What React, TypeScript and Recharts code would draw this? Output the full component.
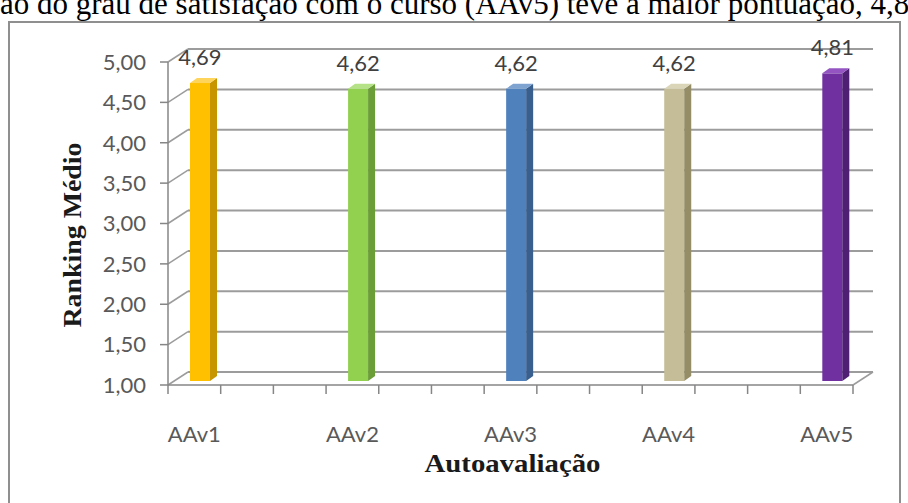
import { BarChart, Bar, XAxis, YAxis, CartesianGrid, LabelList } from 'recharts';

// Ranking médio por item de autoavaliação
const categories = ['AAv1', 'AAv2', 'AAv3', 'AAv4', 'AAv5'];
const rankingMedio = [4.69, 4.62, 4.62, 4.62, 4.81];
const yTicks = [1, 1.5, 2, 2.5, 3, 3.5, 4, 4.5, 5];

// the worksheet keeps two blank columns between items
const BLANK_SLOTS = 2;

// front / side / top shades for each column
const palette = [
  ['#FFC000', '#C79500', '#FFD45A'],
  ['#92D050', '#6C9E38', '#B5E187'],
  ['#4F81BD', '#385F8E', '#7FA3D1'],
  ['#C4BD97', '#958D66', '#DAD5B8'],
  ['#7030A0', '#4F1F74', '#9455C2'],
];

const W = 908;
const H = 503;
const PLOT_LEFT = 168;
const PLOT_RIGHT = 853;
const PLOT_TOP = 62;
const PLOT_BOTTOM = 385;
const DEPTH_X = 20;
const DEPTH_Y = 13;
const BAR_SHIFT_X = 6;
const BAR_SHIFT_Y = 4;
const BAR_DEPTH_X = 7;
const BAR_DEPTH_Y = 5;
const GRID = '#9c9c9c';
const AXIS = '#868686';
const LABEL_FONT = 'Lato, "Open Sans", sans-serif';
const TITLE_FONT = '"Liberation Serif", "Times New Roman", serif';

type Row = { slot: string; label: string; value: number | null; color: number };

const rows: Row[] = categories.flatMap((name, i) => {
  const row: Row = { slot: name, label: name, value: rankingMedio[i], color: i };
  if (i === categories.length - 1) return [row];
  const blanks: Row[] = Array.from({ length: BLANK_SLOTS }, (_, k) => ({
    slot: `${name}-${k}`,
    label: '',
    value: null,
    color: -1,
  }));
  return [row, ...blanks];
});

const SLOT = (PLOT_RIGHT - PLOT_LEFT) / rows.length;

const fmt = (v: number) => v.toFixed(2).replace('.', ',');

// back wall gridline plus the short side-wall segment joining it to the axis
const wallLine = (props: any) => {
  const { x1, x2, y1 } = props;
  const floor = Math.abs(y1 - PLOT_BOTTOM) < 1;
  return (
    <g key={`wall-${y1}`}>
      <line x1={x1} y1={y1} x2={x1 + DEPTH_X} y2={y1 - DEPTH_Y} stroke={GRID} strokeWidth={1.5} />
      <line
        x1={x1 + DEPTH_X}
        y1={y1 - DEPTH_Y}
        x2={x2 + DEPTH_X}
        y2={y1 - DEPTH_Y}
        stroke={GRID}
        strokeWidth={2}
      />
      {floor && (
        <line x1={x2} y1={y1} x2={x2 + DEPTH_X} y2={y1 - DEPTH_Y} stroke={GRID} strokeWidth={1.5} />
      )}
    </g>
  );
};

const Column3D = (props: any) => {
  const { x, y, width, height, payload } = props;
  if (payload == null || payload.value == null || !height) return null;
  const [front, side, top] = palette[payload.color];
  const fx = x + BAR_SHIFT_X;
  const fy = y - BAR_SHIFT_Y;
  const r = fx + width;
  return (
    <g>
      <rect x={fx} y={fy} width={width} height={height} fill={front} />
      <polygon
        points={`${r},${fy} ${r + BAR_DEPTH_X},${fy - BAR_DEPTH_Y} ${r + BAR_DEPTH_X},${fy + height - BAR_DEPTH_Y} ${r},${fy + height}`}
        fill={side}
      />
      <polygon
        points={`${fx},${fy} ${r},${fy} ${r + BAR_DEPTH_X},${fy - BAR_DEPTH_Y} ${fx + BAR_DEPTH_X},${fy - BAR_DEPTH_Y}`}
        fill={top}
      />
    </g>
  );
};

const SlotTick = (props: any) => {
  const { x, payload, index } = props;
  const i = payload?.index ?? index;
  const row = rows[i];
  const left = x - SLOT / 2;
  return (
    <g>
      <line x1={left} y1={PLOT_BOTTOM} x2={left} y2={PLOT_BOTTOM + 9} stroke={AXIS} strokeWidth={1.5} />
      {i === rows.length - 1 && (
        <line
          x1={left + SLOT}
          y1={PLOT_BOTTOM}
          x2={left + SLOT}
          y2={PLOT_BOTTOM + 9}
          stroke={AXIS}
          strokeWidth={1.5}
        />
      )}
      {row && row.label && (
        <text x={x} y={442} textAnchor="middle" fill="#595959" fontSize={22} fontFamily={LABEL_FONT}>
          {row.label}
        </text>
      )}
    </g>
  );
};

const ValueLabel = (props: any) => {
  const { x, y, width, value } = props;
  if (value == null) return null;
  return (
    <text
      x={x + width / 2 + BAR_SHIFT_X}
      y={y - 22}
      textAnchor="middle"
      fill="#404040"
      fontSize={22}
      fontFamily={LABEL_FONT}
    >
      {fmt(value)}
    </text>
  );
};

export default function App() {
  return (
    <div
      style={{
        position: 'absolute',
        left: 0,
        top: 0,
        width: W,
        height: H,
        overflow: 'hidden',
        background: '#fff',
      }}
    >
      <div
        style={{
          position: 'absolute',
          left: 0,
          top: -12,
          whiteSpace: 'nowrap',
          fontFamily: TITLE_FONT,
          fontSize: 31,
          lineHeight: '31px',
          color: '#000',
        }}
      >
        ão do grau de satisfação com o curso (AAv5) teve a maior pontuação, 4,81.
      </div>
      <div
        style={{
          position: 'absolute',
          left: 8,
          top: 21,
          width: 893,
          height: 500,
          border: '2px solid #8f8f8f',
          boxSizing: 'border-box',
        }}
      />
      <div style={{ position: 'absolute', left: 0, top: 0 }}>
        <BarChart
          width={W}
          height={H}
          data={rows}
          margin={{ top: PLOT_TOP, right: W - PLOT_RIGHT, bottom: 18, left: 8 }}
          barSize={20}
        >
          <CartesianGrid vertical={false} horizontal={wallLine} />
          <XAxis
            dataKey="slot"
            interval={0}
            height={H - PLOT_BOTTOM - 18}
            axisLine={{ stroke: AXIS, strokeWidth: 1.5 }}
            tickLine={false}
            tick={<SlotTick />}
            label={{
              content: () => (
                <text
                  x={(PLOT_LEFT + PLOT_RIGHT) / 2 + 2}
                  y={472}
                  textAnchor="middle"
                  fontFamily={TITLE_FONT}
                  fontWeight="bold"
                  fontSize={26}
                  textLength={176}
                  lengthAdjust="spacingAndGlyphs"
                  fill="#1a1a1a"
                >
                  Autoavaliação
                </text>
              ),
            }}
          />
          <YAxis
            type="number"
            domain={[1, 5]}
            ticks={yTicks}
            interval={0}
            width={PLOT_LEFT - 8}
            tickFormatter={fmt}
            tickSize={8}
            tickMargin={14}
            axisLine={{ stroke: AXIS, strokeWidth: 1.5 }}
            tickLine={{ stroke: AXIS, strokeWidth: 1.5 }}
            tick={{ fill: '#595959', fontSize: 22, fontFamily: LABEL_FONT }}
            label={{
              content: () => (
                <text
                  x={81}
                  y={235}
                  transform="rotate(-90 81 235)"
                  textAnchor="middle"
                  fontFamily={TITLE_FONT}
                  fontWeight="bold"
                  fontSize={26}
                  textLength={185}
                  lengthAdjust="spacingAndGlyphs"
                  fill="#1a1a1a"
                >
                  Ranking Médio
                </text>
              ),
            }}
          />
          <Bar dataKey="value" isAnimationActive={false} shape={<Column3D />}>
            <LabelList dataKey="value" content={<ValueLabel />} />
          </Bar>
        </BarChart>
      </div>
    </div>
  );
}
